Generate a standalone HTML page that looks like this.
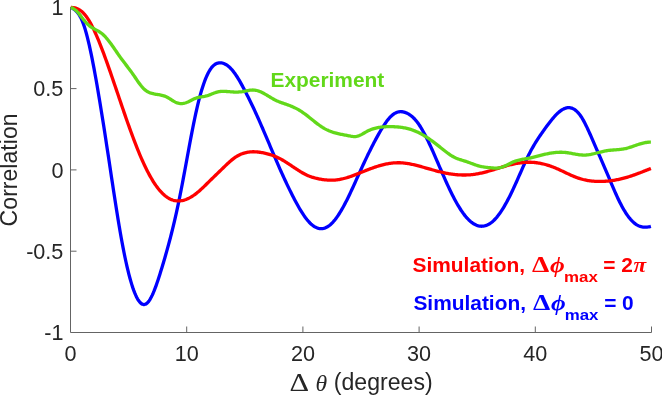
<!DOCTYPE html>
<html><head><meta charset="utf-8"><style>
html,body{margin:0;padding:0;background:#fff;}
body{width:662px;height:396px;overflow:hidden;position:relative;}
svg{position:absolute;left:0;top:0;}
.tk{font-family:"Liberation Sans",Arial,sans-serif;font-size:21.6px;fill:#262626;}
.lb{font-family:"Liberation Sans",Arial,sans-serif;font-size:23.1px;fill:#262626;}
.sf{font-family:"Liberation Serif","Times New Roman",serif;}
.lg{font-family:"Liberation Sans",Arial,sans-serif;font-size:20.9px;font-weight:bold;}
</style></head><body>
<svg width="662" height="396" viewBox="0 0 662 396">
<path d="M70.5,7.3 V332.5 H651.5" stroke="#646464" stroke-width="1" fill="none"/>
<path d="M70.5,7.3 h6 M70.5,88.6 h6 M70.5,169.9 h6 M70.5,251.2 h6 M186.7,332.5 v-6 M302.9,332.5 v-6 M419.1,332.5 v-6 M535.3,332.5 v-6 M651.5,332.5 v-6" stroke="#646464" stroke-width="1" fill="none"/>
<g class="tk">
<text x="63.4" y="15.1" text-anchor="end">1</text>
<text x="63.4" y="96.4" text-anchor="end">0.5</text>
<text x="63.4" y="177.7" text-anchor="end">0</text>
<text x="63.4" y="259.0" text-anchor="end">-0.5</text>
<text x="63.4" y="340.3" text-anchor="end">-1</text>
<text x="70.5" y="360.7" text-anchor="middle">0</text>
<text x="186.7" y="360.7" text-anchor="middle">10</text>
<text x="302.9" y="360.7" text-anchor="middle">20</text>
<text x="419.1" y="360.7" text-anchor="middle">30</text>
<text x="535.3" y="360.7" text-anchor="middle">40</text>
<text x="651.5" y="360.7" text-anchor="middle">50</text>
</g>
<text class="lb" transform="translate(16.8,169.9) rotate(-90)" text-anchor="middle">Correlation</text>
<text class="sf" font-size="25.8" fill="#262626" transform="translate(289.4,390.6) scale(1.18,1)">&#916;</text>
<text class="sf" font-size="23.7" font-style="italic" fill="#262626" x="315.5" y="390.6">&#952;</text>
<text class="lb" x="333.8" y="390.3">(degrees)</text>
<path d="M70.80,7.40 L71.77,7.88 L72.74,8.40 L73.71,9.01 L74.67,9.71 L75.64,10.52 L76.61,11.48 L77.58,12.60 L78.55,13.89 L79.52,15.40 L80.48,17.12 L81.45,19.10 L82.42,21.34 L83.39,23.87 L84.36,26.70 L85.33,29.83 L86.30,33.23 L87.26,36.89 L88.23,40.80 L89.20,44.94 L90.17,49.31 L91.14,53.88 L92.11,58.64 L93.07,63.58 L94.04,68.68 L95.01,73.93 L95.98,79.32 L96.95,84.82 L97.92,90.44 L98.88,96.17 L99.85,101.99 L100.82,107.90 L101.79,113.89 L102.76,119.97 L103.73,126.11 L104.70,132.31 L105.66,138.57 L106.63,144.88 L107.60,151.24 L108.57,157.62 L109.54,164.04 L110.51,170.47 L111.47,176.90 L112.44,183.30 L113.41,189.68 L114.38,196.00 L115.35,202.26 L116.32,208.43 L117.29,214.50 L118.25,220.45 L119.22,226.26 L120.19,231.93 L121.16,237.42 L122.13,242.74 L123.10,247.86 L124.06,252.78 L125.03,257.50 L126.00,262.02 L126.97,266.32 L127.94,270.42 L128.91,274.30 L129.88,277.97 L130.84,281.41 L131.81,284.63 L132.78,287.62 L133.75,290.37 L134.72,292.89 L135.69,295.17 L136.65,297.21 L137.62,299.01 L138.59,300.56 L139.56,301.85 L140.53,302.90 L141.50,303.69 L142.47,304.23 L143.43,304.50 L144.40,304.52 L145.37,304.26 L146.34,303.75 L147.31,302.96 L148.28,301.91 L149.24,300.61 L150.21,299.07 L151.18,297.32 L152.15,295.37 L153.12,293.22 L154.09,290.91 L155.05,288.43 L156.02,285.81 L156.99,283.06 L157.96,280.20 L158.93,277.24 L159.90,274.19 L160.87,271.08 L161.83,267.91 L162.80,264.70 L163.77,261.45 L164.74,258.16 L165.71,254.81 L166.68,251.40 L167.64,247.92 L168.61,244.38 L169.58,240.77 L170.55,237.07 L171.52,233.28 L172.49,229.41 L173.46,225.43 L174.42,221.36 L175.39,217.17 L176.36,212.87 L177.33,208.45 L178.30,203.90 L179.27,199.22 L180.23,194.41 L181.20,189.47 L182.17,184.45 L183.14,179.33 L184.11,174.16 L185.08,168.94 L186.05,163.69 L187.01,158.44 L187.98,153.19 L188.95,147.97 L189.92,142.79 L190.89,137.68 L191.86,132.65 L192.82,127.71 L193.79,122.90 L194.76,118.22 L195.73,113.69 L196.70,109.34 L197.67,105.17 L198.64,101.21 L199.60,97.46 L200.57,93.91 L201.54,90.56 L202.51,87.42 L203.48,84.48 L204.45,81.74 L205.41,79.20 L206.38,76.86 L207.35,74.72 L208.32,72.77 L209.29,71.01 L210.26,69.45 L211.22,68.07 L212.19,66.88 L213.16,65.86 L214.13,65.00 L215.10,64.30 L216.07,63.75 L217.04,63.33 L218.00,63.04 L218.97,62.87 L219.94,62.81 L220.91,62.85 L221.88,62.99 L222.85,63.21 L223.81,63.53 L224.78,63.94 L225.75,64.43 L226.72,65.02 L227.69,65.70 L228.66,66.47 L229.63,67.32 L230.59,68.27 L231.56,69.30 L232.53,70.43 L233.50,71.64 L234.47,72.93 L235.44,74.30 L236.40,75.75 L237.37,77.26 L238.34,78.83 L239.31,80.46 L240.28,82.14 L241.25,83.87 L242.22,85.64 L243.18,87.44 L244.15,89.27 L245.12,91.12 L246.09,93.00 L247.06,94.90 L248.03,96.82 L248.99,98.77 L249.96,100.74 L250.93,102.72 L251.90,104.74 L252.87,106.77 L253.84,108.82 L254.81,110.90 L255.77,113.00 L256.74,115.12 L257.71,117.26 L258.68,119.42 L259.65,121.61 L260.62,123.81 L261.58,126.03 L262.55,128.27 L263.52,130.53 L264.49,132.79 L265.46,135.07 L266.43,137.35 L267.39,139.64 L268.36,141.93 L269.33,144.23 L270.30,146.53 L271.27,148.82 L272.24,151.11 L273.21,153.39 L274.17,155.67 L275.14,157.93 L276.11,160.18 L277.08,162.42 L278.05,164.64 L279.02,166.85 L279.98,169.04 L280.95,171.21 L281.92,173.36 L282.89,175.49 L283.86,177.61 L284.83,179.70 L285.80,181.77 L286.76,183.83 L287.73,185.86 L288.70,187.86 L289.67,189.85 L290.64,191.81 L291.61,193.75 L292.57,195.66 L293.54,197.55 L294.51,199.41 L295.48,201.24 L296.45,203.04 L297.42,204.80 L298.39,206.52 L299.35,208.20 L300.32,209.84 L301.29,211.42 L302.26,212.96 L303.23,214.44 L304.20,215.86 L305.16,217.22 L306.13,218.52 L307.10,219.75 L308.07,220.91 L309.04,222.00 L310.01,223.01 L310.97,223.94 L311.94,224.79 L312.91,225.56 L313.88,226.24 L314.85,226.84 L315.82,227.36 L316.79,227.79 L317.75,228.13 L318.72,228.39 L319.69,228.56 L320.66,228.65 L321.63,228.65 L322.60,228.56 L323.56,228.39 L324.53,228.13 L325.50,227.77 L326.47,227.33 L327.44,226.80 L328.41,226.18 L329.38,225.47 L330.34,224.68 L331.31,223.79 L332.28,222.83 L333.25,221.79 L334.22,220.67 L335.19,219.47 L336.15,218.20 L337.12,216.86 L338.09,215.46 L339.06,213.98 L340.03,212.45 L341.00,210.85 L341.97,209.20 L342.93,207.49 L343.90,205.72 L344.87,203.90 L345.84,202.04 L346.81,200.13 L347.78,198.18 L348.74,196.19 L349.71,194.17 L350.68,192.12 L351.65,190.05 L352.62,187.95 L353.59,185.84 L354.56,183.71 L355.52,181.57 L356.49,179.43 L357.46,177.28 L358.43,175.13 L359.40,172.99 L360.37,170.85 L361.33,168.73 L362.30,166.62 L363.27,164.53 L364.24,162.46 L365.21,160.40 L366.18,158.36 L367.14,156.34 L368.11,154.34 L369.08,152.36 L370.05,150.40 L371.02,148.46 L371.99,146.55 L372.96,144.66 L373.92,142.80 L374.89,140.96 L375.86,139.15 L376.83,137.36 L377.80,135.61 L378.77,133.88 L379.73,132.19 L380.70,130.53 L381.67,128.92 L382.64,127.34 L383.61,125.82 L384.58,124.35 L385.55,122.94 L386.51,121.60 L387.48,120.32 L388.45,119.12 L389.42,117.99 L390.39,116.95 L391.36,115.99 L392.32,115.12 L393.29,114.35 L394.26,113.68 L395.23,113.12 L396.20,112.65 L397.17,112.27 L398.14,111.99 L399.10,111.80 L400.07,111.69 L401.04,111.67 L402.01,111.73 L402.98,111.86 L403.95,112.08 L404.91,112.36 L405.88,112.71 L406.85,113.13 L407.82,113.62 L408.79,114.17 L409.76,114.80 L410.73,115.49 L411.69,116.26 L412.66,117.10 L413.63,118.02 L414.60,119.02 L415.57,120.10 L416.54,121.26 L417.50,122.50 L418.47,123.84 L419.44,125.25 L420.41,126.75 L421.38,128.33 L422.35,129.98 L423.31,131.69 L424.28,133.47 L425.25,135.31 L426.22,137.21 L427.19,139.16 L428.16,141.15 L429.13,143.19 L430.09,145.26 L431.06,147.38 L432.03,149.52 L433.00,151.68 L433.97,153.87 L434.94,156.08 L435.90,158.31 L436.87,160.54 L437.84,162.78 L438.81,165.03 L439.78,167.28 L440.75,169.52 L441.72,171.76 L442.68,173.98 L443.65,176.19 L444.62,178.39 L445.59,180.56 L446.56,182.71 L447.53,184.83 L448.49,186.92 L449.46,188.98 L450.43,191.00 L451.40,192.97 L452.37,194.91 L453.34,196.81 L454.31,198.66 L455.27,200.47 L456.24,202.23 L457.21,203.94 L458.18,205.60 L459.15,207.20 L460.12,208.75 L461.08,210.25 L462.05,211.68 L463.02,213.06 L463.99,214.37 L464.96,215.62 L465.93,216.80 L466.89,217.91 L467.86,218.96 L468.83,219.94 L469.80,220.84 L470.77,221.68 L471.74,222.45 L472.71,223.15 L473.67,223.78 L474.64,224.33 L475.61,224.82 L476.58,225.24 L477.55,225.58 L478.52,225.85 L479.48,226.05 L480.45,226.18 L481.42,226.24 L482.39,226.22 L483.36,226.13 L484.33,225.97 L485.30,225.73 L486.26,225.42 L487.23,225.04 L488.20,224.58 L489.17,224.05 L490.14,223.44 L491.11,222.76 L492.07,222.00 L493.04,221.17 L494.01,220.26 L494.98,219.28 L495.95,218.21 L496.92,217.08 L497.89,215.88 L498.85,214.60 L499.82,213.26 L500.79,211.85 L501.76,210.39 L502.73,208.86 L503.70,207.27 L504.66,205.62 L505.63,203.93 L506.60,202.18 L507.57,200.38 L508.54,198.53 L509.51,196.63 L510.48,194.69 L511.44,192.71 L512.41,190.70 L513.38,188.64 L514.35,186.55 L515.32,184.42 L516.29,182.27 L517.25,180.10 L518.22,177.90 L519.19,175.70 L520.16,173.50 L521.13,171.30 L522.10,169.10 L523.06,166.93 L524.03,164.77 L525.00,162.65 L525.97,160.56 L526.94,158.51 L527.91,156.51 L528.88,154.56 L529.84,152.67 L530.81,150.84 L531.78,149.06 L532.75,147.33 L533.72,145.65 L534.69,144.02 L535.65,142.43 L536.62,140.88 L537.59,139.36 L538.56,137.87 L539.53,136.42 L540.50,134.99 L541.47,133.59 L542.43,132.21 L543.40,130.84 L544.37,129.49 L545.34,128.15 L546.31,126.82 L547.28,125.50 L548.24,124.20 L549.21,122.92 L550.18,121.67 L551.15,120.45 L552.12,119.26 L553.09,118.10 L554.06,116.99 L555.02,115.92 L555.99,114.89 L556.96,113.92 L557.93,113.00 L558.90,112.14 L559.87,111.35 L560.83,110.62 L561.80,109.96 L562.77,109.38 L563.74,108.87 L564.71,108.44 L565.68,108.10 L566.65,107.85 L567.61,107.69 L568.58,107.63 L569.55,107.67 L570.52,107.81 L571.49,108.06 L572.46,108.41 L573.42,108.87 L574.39,109.44 L575.36,110.12 L576.33,110.92 L577.30,111.83 L578.27,112.87 L579.23,114.03 L580.20,115.30 L581.17,116.71 L582.14,118.24 L583.11,119.88 L584.08,121.63 L585.05,123.47 L586.01,125.39 L586.98,127.39 L587.95,129.45 L588.92,131.57 L589.89,133.73 L590.86,135.93 L591.82,138.14 L592.79,140.37 L593.76,142.61 L594.73,144.84 L595.70,147.07 L596.67,149.29 L597.64,151.51 L598.60,153.72 L599.57,155.94 L600.54,158.16 L601.51,160.38 L602.48,162.61 L603.45,164.85 L604.41,167.09 L605.38,169.34 L606.35,171.60 L607.32,173.87 L608.29,176.16 L609.26,178.46 L610.23,180.76 L611.19,183.06 L612.16,185.35 L613.13,187.63 L614.10,189.88 L615.07,192.09 L616.04,194.28 L617.00,196.41 L617.97,198.49 L618.94,200.52 L619.91,202.47 L620.88,204.36 L621.85,206.18 L622.82,207.94 L623.78,209.62 L624.75,211.23 L625.72,212.76 L626.69,214.22 L627.66,215.61 L628.63,216.92 L629.59,218.16 L630.56,219.31 L631.53,220.39 L632.50,221.39 L633.47,222.30 L634.44,223.13 L635.40,223.88 L636.37,224.55 L637.34,225.13 L638.31,225.64 L639.28,226.07 L640.25,226.43 L641.22,226.72 L642.18,226.94 L643.15,227.10 L644.12,227.19 L645.09,227.22 L646.06,227.20 L647.03,227.12 L647.99,226.98 L648.96,226.80 L649.93,226.57 L650.90,226.30" stroke="#0000ff" stroke-width="3.3" fill="none" stroke-linejoin="round" stroke-linecap="butt"/>
<path d="M70.80,7.40 L71.77,7.45 L72.74,7.54 L73.71,7.68 L74.67,7.88 L75.64,8.14 L76.61,8.47 L77.58,8.87 L78.55,9.34 L79.52,9.90 L80.48,10.54 L81.45,11.27 L82.42,12.10 L83.39,13.02 L84.36,14.06 L85.33,15.20 L86.30,16.46 L87.26,17.83 L88.23,19.30 L89.20,20.88 L90.17,22.55 L91.14,24.31 L92.11,26.17 L93.07,28.10 L94.04,30.12 L95.01,32.21 L95.98,34.37 L96.95,36.60 L97.92,38.89 L98.88,41.24 L99.85,43.64 L100.82,46.09 L101.79,48.58 L102.76,51.12 L103.73,53.70 L104.70,56.32 L105.66,58.97 L106.63,61.66 L107.60,64.37 L108.57,67.11 L109.54,69.88 L110.51,72.66 L111.47,75.46 L112.44,78.28 L113.41,81.10 L114.38,83.94 L115.35,86.78 L116.32,89.63 L117.29,92.48 L118.25,95.34 L119.22,98.19 L120.19,101.04 L121.16,103.88 L122.13,106.71 L123.10,109.54 L124.06,112.35 L125.03,115.15 L126.00,117.93 L126.97,120.70 L127.94,123.44 L128.91,126.17 L129.88,128.87 L130.84,131.54 L131.81,134.18 L132.78,136.79 L133.75,139.37 L134.72,141.92 L135.69,144.43 L136.65,146.90 L137.62,149.33 L138.59,151.71 L139.56,154.05 L140.53,156.34 L141.50,158.59 L142.47,160.78 L143.43,162.91 L144.40,165.00 L145.37,167.03 L146.34,169.01 L147.31,170.93 L148.28,172.80 L149.24,174.60 L150.21,176.36 L151.18,178.05 L152.15,179.69 L153.12,181.27 L154.09,182.78 L155.05,184.24 L156.02,185.64 L156.99,186.97 L157.96,188.25 L158.93,189.46 L159.90,190.61 L160.87,191.70 L161.83,192.73 L162.80,193.70 L163.77,194.61 L164.74,195.45 L165.71,196.23 L166.68,196.95 L167.64,197.61 L168.61,198.21 L169.58,198.75 L170.55,199.22 L171.52,199.64 L172.49,199.99 L173.46,200.29 L174.42,200.53 L175.39,200.71 L176.36,200.84 L177.33,200.92 L178.30,200.95 L179.27,200.92 L180.23,200.85 L181.20,200.72 L182.17,200.56 L183.14,200.34 L184.11,200.08 L185.08,199.78 L186.05,199.43 L187.01,199.05 L187.98,198.62 L188.95,198.15 L189.92,197.64 L190.89,197.10 L191.86,196.52 L192.82,195.90 L193.79,195.25 L194.76,194.56 L195.73,193.84 L196.70,193.09 L197.67,192.30 L198.64,191.49 L199.60,190.65 L200.57,189.78 L201.54,188.90 L202.51,187.99 L203.48,187.08 L204.45,186.14 L205.41,185.20 L206.38,184.25 L207.35,183.29 L208.32,182.33 L209.29,181.38 L210.26,180.42 L211.22,179.47 L212.19,178.52 L213.16,177.58 L214.13,176.64 L215.10,175.70 L216.07,174.76 L217.04,173.82 L218.00,172.89 L218.97,171.95 L219.94,171.02 L220.91,170.08 L221.88,169.14 L222.85,168.20 L223.81,167.26 L224.78,166.32 L225.75,165.39 L226.72,164.47 L227.69,163.56 L228.66,162.67 L229.63,161.80 L230.59,160.95 L231.56,160.14 L232.53,159.35 L233.50,158.59 L234.47,157.88 L235.44,157.20 L236.40,156.57 L237.37,155.99 L238.34,155.45 L239.31,154.95 L240.28,154.49 L241.25,154.07 L242.22,153.69 L243.18,153.35 L244.15,153.05 L245.12,152.78 L246.09,152.55 L247.06,152.34 L248.03,152.18 L248.99,152.04 L249.96,151.93 L250.93,151.85 L251.90,151.80 L252.87,151.77 L253.84,151.77 L254.81,151.80 L255.77,151.84 L256.74,151.91 L257.71,152.00 L258.68,152.11 L259.65,152.24 L260.62,152.39 L261.58,152.55 L262.55,152.73 L263.52,152.93 L264.49,153.14 L265.46,153.36 L266.43,153.59 L267.39,153.84 L268.36,154.10 L269.33,154.38 L270.30,154.67 L271.27,154.98 L272.24,155.31 L273.21,155.65 L274.17,156.02 L275.14,156.40 L276.11,156.81 L277.08,157.24 L278.05,157.69 L279.02,158.16 L279.98,158.65 L280.95,159.17 L281.92,159.71 L282.89,160.27 L283.86,160.85 L284.83,161.44 L285.80,162.04 L286.76,162.66 L287.73,163.29 L288.70,163.92 L289.67,164.56 L290.64,165.21 L291.61,165.86 L292.57,166.51 L293.54,167.16 L294.51,167.81 L295.48,168.46 L296.45,169.10 L297.42,169.73 L298.39,170.35 L299.35,170.96 L300.32,171.56 L301.29,172.14 L302.26,172.71 L303.23,173.26 L304.20,173.79 L305.16,174.30 L306.13,174.78 L307.10,175.24 L308.07,175.67 L309.04,176.08 L310.01,176.45 L310.97,176.80 L311.94,177.13 L312.91,177.43 L313.88,177.71 L314.85,177.97 L315.82,178.22 L316.79,178.44 L317.75,178.65 L318.72,178.85 L319.69,179.03 L320.66,179.20 L321.63,179.36 L322.60,179.51 L323.56,179.65 L324.53,179.77 L325.50,179.88 L326.47,179.98 L327.44,180.06 L328.41,180.12 L329.38,180.17 L330.34,180.20 L331.31,180.20 L332.28,180.19 L333.25,180.16 L334.22,180.11 L335.19,180.03 L336.15,179.94 L337.12,179.83 L338.09,179.70 L339.06,179.55 L340.03,179.38 L341.00,179.19 L341.97,178.99 L342.93,178.76 L343.90,178.52 L344.87,178.27 L345.84,178.00 L346.81,177.71 L347.78,177.41 L348.74,177.10 L349.71,176.77 L350.68,176.44 L351.65,176.09 L352.62,175.74 L353.59,175.38 L354.56,175.01 L355.52,174.64 L356.49,174.26 L357.46,173.88 L358.43,173.49 L359.40,173.11 L360.37,172.72 L361.33,172.33 L362.30,171.94 L363.27,171.55 L364.24,171.17 L365.21,170.78 L366.18,170.40 L367.14,170.02 L368.11,169.64 L369.08,169.27 L370.05,168.91 L371.02,168.55 L371.99,168.19 L372.96,167.85 L373.92,167.51 L374.89,167.18 L375.86,166.85 L376.83,166.54 L377.80,166.23 L378.77,165.94 L379.73,165.65 L380.70,165.38 L381.67,165.12 L382.64,164.87 L383.61,164.63 L384.58,164.40 L385.55,164.18 L386.51,163.98 L387.48,163.79 L388.45,163.62 L389.42,163.46 L390.39,163.31 L391.36,163.18 L392.32,163.07 L393.29,162.97 L394.26,162.89 L395.23,162.83 L396.20,162.78 L397.17,162.75 L398.14,162.74 L399.10,162.74 L400.07,162.77 L401.04,162.81 L402.01,162.87 L402.98,162.95 L403.95,163.05 L404.91,163.16 L405.88,163.28 L406.85,163.42 L407.82,163.57 L408.79,163.73 L409.76,163.91 L410.73,164.10 L411.69,164.29 L412.66,164.50 L413.63,164.72 L414.60,164.94 L415.57,165.18 L416.54,165.42 L417.50,165.67 L418.47,165.92 L419.44,166.18 L420.41,166.44 L421.38,166.71 L422.35,166.98 L423.31,167.26 L424.28,167.53 L425.25,167.81 L426.22,168.09 L427.19,168.36 L428.16,168.64 L429.13,168.92 L430.09,169.19 L431.06,169.46 L432.03,169.73 L433.00,170.00 L433.97,170.27 L434.94,170.53 L435.90,170.78 L436.87,171.04 L437.84,171.29 L438.81,171.53 L439.78,171.77 L440.75,172.00 L441.72,172.23 L442.68,172.45 L443.65,172.66 L444.62,172.87 L445.59,173.07 L446.56,173.26 L447.53,173.44 L448.49,173.62 L449.46,173.78 L450.43,173.94 L451.40,174.08 L452.37,174.22 L453.34,174.34 L454.31,174.46 L455.27,174.56 L456.24,174.66 L457.21,174.74 L458.18,174.81 L459.15,174.87 L460.12,174.93 L461.08,174.97 L462.05,174.99 L463.02,175.01 L463.99,175.02 L464.96,175.01 L465.93,174.99 L466.89,174.96 L467.86,174.92 L468.83,174.87 L469.80,174.80 L470.77,174.73 L471.74,174.63 L472.71,174.53 L473.67,174.41 L474.64,174.29 L475.61,174.14 L476.58,173.99 L477.55,173.82 L478.52,173.64 L479.48,173.44 L480.45,173.24 L481.42,173.03 L482.39,172.80 L483.36,172.57 L484.33,172.32 L485.30,172.07 L486.26,171.81 L487.23,171.55 L488.20,171.28 L489.17,171.00 L490.14,170.72 L491.11,170.43 L492.07,170.14 L493.04,169.85 L494.01,169.55 L494.98,169.25 L495.95,168.96 L496.92,168.66 L497.89,168.36 L498.85,168.06 L499.82,167.76 L500.79,167.47 L501.76,167.18 L502.73,166.89 L503.70,166.60 L504.66,166.32 L505.63,166.05 L506.60,165.78 L507.57,165.52 L508.54,165.26 L509.51,165.01 L510.48,164.77 L511.44,164.54 L512.41,164.31 L513.38,164.10 L514.35,163.89 L515.32,163.69 L516.29,163.50 L517.25,163.33 L518.22,163.16 L519.19,163.01 L520.16,162.87 L521.13,162.74 L522.10,162.63 L523.06,162.53 L524.03,162.44 L525.00,162.37 L525.97,162.31 L526.94,162.27 L527.91,162.24 L528.88,162.23 L529.84,162.23 L530.81,162.26 L531.78,162.30 L532.75,162.35 L533.72,162.43 L534.69,162.51 L535.65,162.62 L536.62,162.74 L537.59,162.88 L538.56,163.03 L539.53,163.19 L540.50,163.38 L541.47,163.57 L542.43,163.79 L543.40,164.01 L544.37,164.26 L545.34,164.51 L546.31,164.78 L547.28,165.07 L548.24,165.37 L549.21,165.68 L550.18,166.01 L551.15,166.35 L552.12,166.70 L553.09,167.07 L554.06,167.45 L555.02,167.85 L555.99,168.25 L556.96,168.67 L557.93,169.10 L558.90,169.53 L559.87,169.98 L560.83,170.42 L561.80,170.88 L562.77,171.33 L563.74,171.79 L564.71,172.25 L565.68,172.71 L566.65,173.17 L567.61,173.62 L568.58,174.07 L569.55,174.52 L570.52,174.96 L571.49,175.39 L572.46,175.81 L573.42,176.22 L574.39,176.62 L575.36,177.00 L576.33,177.38 L577.30,177.73 L578.27,178.07 L579.23,178.39 L580.20,178.70 L581.17,178.98 L582.14,179.25 L583.11,179.51 L584.08,179.74 L585.05,179.96 L586.01,180.16 L586.98,180.35 L587.95,180.52 L588.92,180.67 L589.89,180.81 L590.86,180.94 L591.82,181.05 L592.79,181.15 L593.76,181.23 L594.73,181.30 L595.70,181.36 L596.67,181.40 L597.64,181.43 L598.60,181.45 L599.57,181.46 L600.54,181.45 L601.51,181.44 L602.48,181.41 L603.45,181.37 L604.41,181.32 L605.38,181.26 L606.35,181.19 L607.32,181.11 L608.29,181.02 L609.26,180.92 L610.23,180.81 L611.19,180.68 L612.16,180.55 L613.13,180.41 L614.10,180.26 L615.07,180.09 L616.04,179.92 L617.00,179.74 L617.97,179.55 L618.94,179.34 L619.91,179.13 L620.88,178.91 L621.85,178.68 L622.82,178.44 L623.78,178.18 L624.75,177.92 L625.72,177.65 L626.69,177.37 L627.66,177.08 L628.63,176.79 L629.59,176.48 L630.56,176.16 L631.53,175.84 L632.50,175.51 L633.47,175.17 L634.44,174.83 L635.40,174.48 L636.37,174.13 L637.34,173.77 L638.31,173.41 L639.28,173.04 L640.25,172.67 L641.22,172.29 L642.18,171.92 L643.15,171.54 L644.12,171.16 L645.09,170.78 L646.06,170.40 L647.03,170.02 L647.99,169.64 L648.96,169.26 L649.93,168.88 L650.90,168.50" stroke="#ff0000" stroke-width="3.3" fill="none" stroke-linejoin="round"/>
<path d="M70.80,7.40 L71.77,7.82 L72.74,8.30 L73.71,8.86 L74.67,9.50 L75.64,10.24 L76.61,11.10 L77.58,12.08 L78.55,13.18 L79.52,14.38 L80.48,15.63 L81.45,16.91 L82.42,18.19 L83.39,19.44 L84.36,20.63 L85.33,21.77 L86.30,22.83 L87.26,23.83 L88.23,24.75 L89.20,25.60 L90.17,26.36 L91.14,27.04 L92.11,27.67 L93.07,28.26 L94.04,28.81 L95.01,29.34 L95.98,29.86 L96.95,30.39 L97.92,30.93 L98.88,31.50 L99.85,32.12 L100.82,32.78 L101.79,33.52 L102.76,34.33 L103.73,35.22 L104.70,36.18 L105.66,37.22 L106.63,38.32 L107.60,39.48 L108.57,40.69 L109.54,41.94 L110.51,43.24 L111.47,44.57 L112.44,45.94 L113.41,47.32 L114.38,48.72 L115.35,50.13 L116.32,51.55 L117.29,52.96 L118.25,54.36 L119.22,55.75 L120.19,57.12 L121.16,58.46 L122.13,59.78 L123.10,61.07 L124.06,62.35 L125.03,63.61 L126.00,64.87 L126.97,66.13 L127.94,67.40 L128.91,68.67 L129.88,69.96 L130.84,71.27 L131.81,72.60 L132.78,73.96 L133.75,75.36 L134.72,76.78 L135.69,78.22 L136.65,79.65 L137.62,81.07 L138.59,82.46 L139.56,83.80 L140.53,85.09 L141.50,86.30 L142.47,87.43 L143.43,88.46 L144.40,89.37 L145.37,90.18 L146.34,90.88 L147.31,91.50 L148.28,92.03 L149.24,92.48 L150.21,92.87 L151.18,93.20 L152.15,93.48 L153.12,93.71 L154.09,93.92 L155.05,94.09 L156.02,94.26 L156.99,94.41 L157.96,94.56 L158.93,94.72 L159.90,94.89 L160.87,95.08 L161.83,95.29 L162.80,95.54 L163.77,95.83 L164.74,96.16 L165.71,96.54 L166.68,96.99 L167.64,97.50 L168.61,98.05 L169.58,98.65 L170.55,99.26 L171.52,99.88 L172.49,100.49 L173.46,101.08 L174.42,101.64 L175.39,102.14 L176.36,102.59 L177.33,102.95 L178.30,103.23 L179.27,103.43 L180.23,103.55 L181.20,103.58 L182.17,103.55 L183.14,103.44 L184.11,103.26 L185.08,103.01 L186.05,102.70 L187.01,102.33 L187.98,101.92 L188.95,101.46 L189.92,100.98 L190.89,100.49 L191.86,99.99 L192.82,99.51 L193.79,99.04 L194.76,98.60 L195.73,98.21 L196.70,97.87 L197.67,97.59 L198.64,97.36 L199.60,97.17 L200.57,97.01 L201.54,96.86 L202.51,96.72 L203.48,96.57 L204.45,96.41 L205.41,96.21 L206.38,95.97 L207.35,95.68 L208.32,95.36 L209.29,95.00 L210.26,94.63 L211.22,94.24 L212.19,93.84 L213.16,93.45 L214.13,93.08 L215.10,92.72 L216.07,92.39 L217.04,92.10 L218.00,91.85 L218.97,91.65 L219.94,91.51 L220.91,91.41 L221.88,91.35 L222.85,91.33 L223.81,91.33 L224.78,91.36 L225.75,91.41 L226.72,91.48 L227.69,91.56 L228.66,91.64 L229.63,91.73 L230.59,91.81 L231.56,91.88 L232.53,91.94 L233.50,91.99 L234.47,92.03 L235.44,92.05 L236.40,92.06 L237.37,92.05 L238.34,92.02 L239.31,91.96 L240.28,91.89 L241.25,91.79 L242.22,91.66 L243.18,91.50 L244.15,91.33 L245.12,91.14 L246.09,90.94 L247.06,90.74 L248.03,90.56 L248.99,90.38 L249.96,90.24 L250.93,90.12 L251.90,90.05 L252.87,90.02 L253.84,90.04 L254.81,90.13 L255.77,90.28 L256.74,90.49 L257.71,90.76 L258.68,91.07 L259.65,91.44 L260.62,91.85 L261.58,92.29 L262.55,92.77 L263.52,93.28 L264.49,93.81 L265.46,94.37 L266.43,94.94 L267.39,95.52 L268.36,96.10 L269.33,96.69 L270.30,97.28 L271.27,97.86 L272.24,98.42 L273.21,98.98 L274.17,99.51 L275.14,100.01 L276.11,100.48 L277.08,100.93 L278.05,101.35 L279.02,101.75 L279.98,102.12 L280.95,102.48 L281.92,102.83 L282.89,103.17 L283.86,103.50 L284.83,103.84 L285.80,104.17 L286.76,104.50 L287.73,104.85 L288.70,105.20 L289.67,105.57 L290.64,105.95 L291.61,106.35 L292.57,106.76 L293.54,107.19 L294.51,107.65 L295.48,108.12 L296.45,108.61 L297.42,109.13 L298.39,109.67 L299.35,110.24 L300.32,110.84 L301.29,111.47 L302.26,112.12 L303.23,112.79 L304.20,113.49 L305.16,114.20 L306.13,114.93 L307.10,115.68 L308.07,116.43 L309.04,117.20 L310.01,117.97 L310.97,118.75 L311.94,119.52 L312.91,120.30 L313.88,121.07 L314.85,121.84 L315.82,122.60 L316.79,123.35 L317.75,124.08 L318.72,124.80 L319.69,125.50 L320.66,126.17 L321.63,126.82 L322.60,127.45 L323.56,128.04 L324.53,128.60 L325.50,129.13 L326.47,129.63 L327.44,130.09 L328.41,130.53 L329.38,130.93 L330.34,131.32 L331.31,131.67 L332.28,132.01 L333.25,132.32 L334.22,132.62 L335.19,132.89 L336.15,133.15 L337.12,133.40 L338.09,133.63 L339.06,133.85 L340.03,134.06 L341.00,134.27 L341.97,134.46 L342.93,134.65 L343.90,134.84 L344.87,135.03 L345.84,135.22 L346.81,135.41 L347.78,135.60 L348.74,135.80 L349.71,135.99 L350.68,136.18 L351.65,136.34 L352.62,136.47 L353.59,136.56 L354.56,136.58 L355.52,136.54 L356.49,136.41 L357.46,136.20 L358.43,135.90 L359.40,135.53 L360.37,135.10 L361.33,134.62 L362.30,134.10 L363.27,133.56 L364.24,133.00 L365.21,132.44 L366.18,131.88 L367.14,131.34 L368.11,130.84 L369.08,130.37 L370.05,129.94 L371.02,129.55 L371.99,129.19 L372.96,128.87 L373.92,128.57 L374.89,128.31 L375.86,128.07 L376.83,127.85 L377.80,127.66 L378.77,127.49 L379.73,127.33 L380.70,127.20 L381.67,127.08 L382.64,126.97 L383.61,126.88 L384.58,126.80 L385.55,126.74 L386.51,126.69 L387.48,126.66 L388.45,126.63 L389.42,126.62 L390.39,126.62 L391.36,126.63 L392.32,126.65 L393.29,126.68 L394.26,126.73 L395.23,126.78 L396.20,126.84 L397.17,126.91 L398.14,127.00 L399.10,127.09 L400.07,127.20 L401.04,127.33 L402.01,127.46 L402.98,127.62 L403.95,127.78 L404.91,127.97 L405.88,128.17 L406.85,128.39 L407.82,128.63 L408.79,128.88 L409.76,129.15 L410.73,129.45 L411.69,129.76 L412.66,130.10 L413.63,130.46 L414.60,130.84 L415.57,131.24 L416.54,131.66 L417.50,132.10 L418.47,132.57 L419.44,133.05 L420.41,133.55 L421.38,134.07 L422.35,134.61 L423.31,135.17 L424.28,135.74 L425.25,136.34 L426.22,136.95 L427.19,137.57 L428.16,138.22 L429.13,138.88 L430.09,139.55 L431.06,140.24 L432.03,140.94 L433.00,141.66 L433.97,142.39 L434.94,143.12 L435.90,143.87 L436.87,144.62 L437.84,145.38 L438.81,146.15 L439.78,146.91 L440.75,147.68 L441.72,148.46 L442.68,149.23 L443.65,150.00 L444.62,150.76 L445.59,151.51 L446.56,152.25 L447.53,152.98 L448.49,153.68 L449.46,154.36 L450.43,155.01 L451.40,155.64 L452.37,156.22 L453.34,156.78 L454.31,157.29 L455.27,157.75 L456.24,158.18 L457.21,158.58 L458.18,158.94 L459.15,159.29 L460.12,159.61 L461.08,159.92 L462.05,160.22 L463.02,160.52 L463.99,160.81 L464.96,161.11 L465.93,161.43 L466.89,161.75 L467.86,162.10 L468.83,162.45 L469.80,162.81 L470.77,163.18 L471.74,163.55 L472.71,163.91 L473.67,164.27 L474.64,164.62 L475.61,164.96 L476.58,165.28 L477.55,165.58 L478.52,165.86 L479.48,166.12 L480.45,166.35 L481.42,166.56 L482.39,166.75 L483.36,166.92 L484.33,167.07 L485.30,167.22 L486.26,167.34 L487.23,167.46 L488.20,167.57 L489.17,167.67 L490.14,167.76 L491.11,167.86 L492.07,167.94 L493.04,168.01 L494.01,168.07 L494.98,168.10 L495.95,168.10 L496.92,168.07 L497.89,168.00 L498.85,167.89 L499.82,167.72 L500.79,167.51 L501.76,167.23 L502.73,166.89 L503.70,166.51 L504.66,166.09 L505.63,165.64 L506.60,165.17 L507.57,164.68 L508.54,164.18 L509.51,163.68 L510.48,163.19 L511.44,162.72 L512.41,162.27 L513.38,161.85 L514.35,161.47 L515.32,161.12 L516.29,160.80 L517.25,160.52 L518.22,160.25 L519.19,160.01 L520.16,159.79 L521.13,159.58 L522.10,159.39 L523.06,159.21 L524.03,159.04 L525.00,158.87 L525.97,158.71 L526.94,158.54 L527.91,158.37 L528.88,158.19 L529.84,158.01 L530.81,157.81 L531.78,157.60 L532.75,157.38 L533.72,157.15 L534.69,156.91 L535.65,156.67 L536.62,156.42 L537.59,156.17 L538.56,155.92 L539.53,155.66 L540.50,155.41 L541.47,155.16 L542.43,154.91 L543.40,154.67 L544.37,154.44 L545.34,154.21 L546.31,154.00 L547.28,153.79 L548.24,153.59 L549.21,153.40 L550.18,153.23 L551.15,153.07 L552.12,152.92 L553.09,152.78 L554.06,152.66 L555.02,152.55 L555.99,152.46 L556.96,152.38 L557.93,152.32 L558.90,152.28 L559.87,152.26 L560.83,152.25 L561.80,152.26 L562.77,152.30 L563.74,152.35 L564.71,152.42 L565.68,152.51 L566.65,152.63 L567.61,152.76 L568.58,152.91 L569.55,153.07 L570.52,153.24 L571.49,153.42 L572.46,153.60 L573.42,153.78 L574.39,153.96 L575.36,154.14 L576.33,154.31 L577.30,154.47 L578.27,154.61 L579.23,154.75 L580.20,154.86 L581.17,154.95 L582.14,155.02 L583.11,155.07 L584.08,155.08 L585.05,155.06 L586.01,155.01 L586.98,154.93 L587.95,154.83 L588.92,154.70 L589.89,154.54 L590.86,154.37 L591.82,154.17 L592.79,153.97 L593.76,153.74 L594.73,153.51 L595.70,153.27 L596.67,153.02 L597.64,152.77 L598.60,152.52 L599.57,152.27 L600.54,152.03 L601.51,151.79 L602.48,151.55 L603.45,151.33 L604.41,151.12 L605.38,150.93 L606.35,150.75 L607.32,150.60 L608.29,150.46 L609.26,150.35 L610.23,150.24 L611.19,150.15 L612.16,150.07 L613.13,150.00 L614.10,149.93 L615.07,149.86 L616.04,149.79 L617.00,149.72 L617.97,149.64 L618.94,149.56 L619.91,149.46 L620.88,149.36 L621.85,149.23 L622.82,149.09 L623.78,148.92 L624.75,148.74 L625.72,148.52 L626.69,148.28 L627.66,148.02 L628.63,147.74 L629.59,147.45 L630.56,147.14 L631.53,146.82 L632.50,146.49 L633.47,146.15 L634.44,145.81 L635.40,145.47 L636.37,145.14 L637.34,144.80 L638.31,144.48 L639.28,144.17 L640.25,143.87 L641.22,143.58 L642.18,143.32 L643.15,143.07 L644.12,142.85 L645.09,142.66 L646.06,142.49 L647.03,142.36 L647.99,142.26 L648.96,142.20 L649.93,142.18 L650.90,142.20" stroke="#62d81a" stroke-width="3.3" fill="none" stroke-linejoin="round"/>
<text class="lg" x="270.5" y="86.9" fill="#62d81a">Experiment</text>
<g fill="#ff0000">
<text class="lg" x="412.5" y="271.7">Simulation,</text>
<text class="sf" font-weight="bold" font-size="22.4" transform="translate(531.9,271.8) scale(1.23,1)">&#916;</text>
<text class="sf" font-weight="bold" font-style="italic" font-size="21.7" transform="translate(550.1,271.8) scale(1.17,1)">&#981;</text>
<text class="lg" style="font-size:14.3px" transform="translate(564.1,282.0) scale(1.18,1)">max</text>
<text class="lg" x="603.2" y="271.7">=</text>
<text class="lg" x="621.3" y="271.7">2</text>
<text class="sf" font-weight="bold" font-style="italic" font-size="21.5" transform="translate(633.4,272.4) scale(1.08,1)">&#960;</text>
</g>
<g fill="#0000ff">
<text class="lg" x="413.4" y="309.8">Simulation,</text>
<text class="sf" font-weight="bold" font-size="22.4" transform="translate(533,309.9) scale(1.23,1)">&#916;</text>
<text class="sf" font-weight="bold" font-style="italic" font-size="21.7" transform="translate(551,309.9) scale(1.17,1)">&#981;</text>
<text class="lg" style="font-size:14.3px" transform="translate(564.7,319.5) scale(1.18,1)">max</text>
<text class="lg" x="604.2" y="309.8">=</text>
<text class="lg" x="622.0" y="309.8">0</text>
</g>
</svg>
</body></html>
